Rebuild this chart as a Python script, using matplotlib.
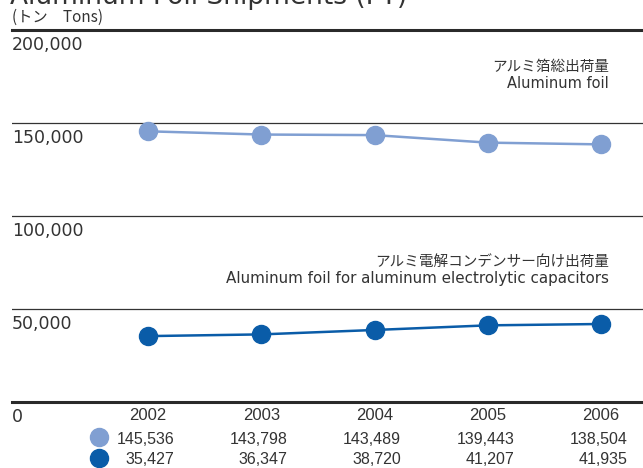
import matplotlib
matplotlib.use("Agg")
import matplotlib.pyplot as plt

plt.rcParams['font.family'] = ['DejaVu Sans', 'Noto Sans CJK JP']

years = ["2002", "2003", "2004", "2005", "2006"]
total_foil = [145536, 143798, 143489, 139443, 138504]
capacitor_foil = [35427, 36347, 38720, 41207, 41935]
y_ticks = [0, 50000, 100000, 150000, 200000]
y_tick_labels = ["0", "50,000", "100,000", "150,000", "200,000"]

light = "#809fd2"
dark = "#0a5ca8"
txt = "#333333"

narrow = ["Liberation Sans", "DejaVu Sans"]
jp = ['Noto Sans CJK JP', 'DejaVu Sans']

W, H = 643, 468
fig = plt.figure(figsize=(W / 100, H / 100), dpi=100)
ax = fig.add_axes([12 / W, (H - 402) / H, (W - 12) / W, 372 / H])

x = list(range(len(years)))
step = 113.25
ax.set_xlim((12 - 148) / step, (643 - 148) / step)
ax.set_ylim(0, 200000)

for v in y_ticks:
    if v in (0, 200000):
        ax.axhline(v, color="#2a2a2a", lw=2.2, zorder=1, clip_on=False)
    else:
        ax.axhline(v, color="#333333", lw=0.9, zorder=1)

ax.plot(x, total_foil, color=light, lw=1.8, marker="o", ms=13, zorder=3, clip_on=False)
ax.plot(x, capacitor_foil, color=dark, lw=1.8, marker="o", ms=13, zorder=3, clip_on=False)

for a in ["top", "bottom", "left", "right"]:
    ax.spines[a].set_visible(False)
ax.set_xticks([])
ax.set_yticks([])

# y labels just below each line
for v, lab in zip(y_ticks, y_tick_labels):
    ax.annotate(lab, xy=(0, v), xycoords=("axes fraction", "data"),
                xytext=(0, -14.5), textcoords="offset points",
                ha="left", va="baseline", fontsize=12.5, color=txt)

# year labels and table values
for i, yr in enumerate(years):
    ax.annotate(yr, xy=(i, 0), xycoords="data", xytext=(0, -13), textcoords="offset points",
                ha="center", va="baseline", fontsize=12, color=txt, family=narrow,
                annotation_clip=False)
    ax.annotate(f"{total_foil[i]:,}", xy=(i, 0), xycoords="data", xytext=(19, -30),
                textcoords="offset points", ha="right", va="baseline", fontsize=11.5, color=txt,
                family=narrow, annotation_clip=False)
    ax.annotate(f"{capacitor_foil[i]:,}", xy=(i, 0), xycoords="data", xytext=(19, -45),
                textcoords="offset points", ha="right", va="baseline", fontsize=11.5, color=txt,
                family=narrow, annotation_clip=False)

# legend markers in table
fig.lines.append(plt.Line2D([99 / W], [(H - 437) / H], marker="o", ms=13, color=light,
                            transform=fig.transFigure))
fig.lines.append(plt.Line2D([99 / W], [(H - 458) / H], marker="o", ms=13, color=dark,
                            transform=fig.transFigure))

# series labels
fig.text(609 / W, (H - 67) / H, "アルミ箔総出荷量", ha="right", va="center", fontsize=10.5,
         color=txt, family=jp)
fig.text(609 / W, (H - 84) / H, "Aluminum foil", ha="right", va="center", fontsize=10.5,
         color=txt)
fig.text(609 / W, (H - 262) / H, "アルミ電解コンデンサー向け出荷量", ha="right", va="center",
         fontsize=10.5, color=txt, family=jp)
fig.text(609 / W, (H - 279) / H, "Aluminum foil for aluminum electrolytic capacitors",
         ha="right", va="center", fontsize=10.9, color=txt)

# unit and (clipped) title
fig.text(12 / W, (H - 17) / H, "(トン　Tons)", ha="left", va="center", fontsize=11,
         color=txt, family=jp)
fig.text(10 / W, (H - 4) / H, "Aluminum Foil Shipments (FY)", ha="left", va="baseline",
         fontsize=19, color=txt)

fig.savefig("out.png", dpi=100)
